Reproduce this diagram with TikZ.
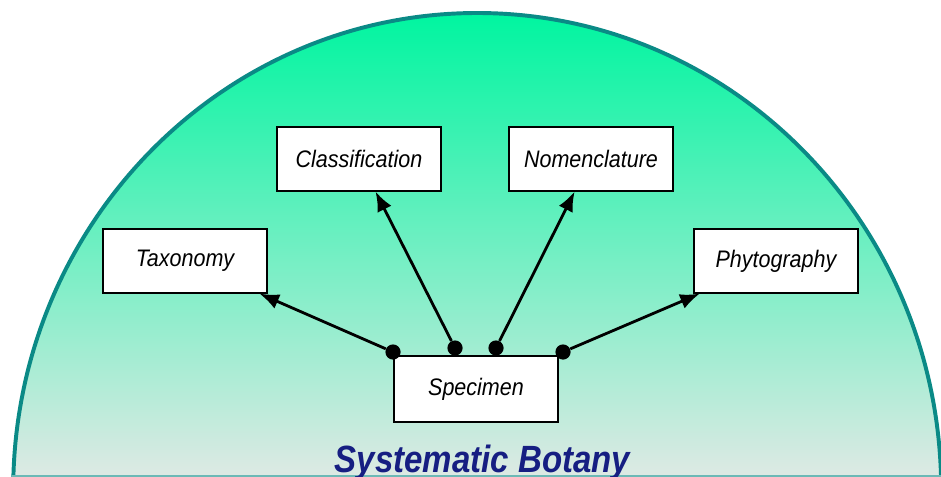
\documentclass[tikz,border=0pt]{standalone}
\usepackage{fontspec}
\setmainfont{Liberation Sans}
\newfontfamily\narrowfont[FakeStretch=0.9]{Liberation Sans}
\newfontfamily\titlefont[FakeStretch=0.87]{Liberation Sans}
\usetikzlibrary{positioning}
\usetikzlibrary{arrows.meta}
\usetikzlibrary{shadows}
\definecolor{domegreen}{RGB}{0,245,160}
\definecolor{domegrey}{RGB}{228,233,230}
\definecolor{domeedge}{RGB}{10,138,134}
\definecolor{titleblue}{RGB}{22,30,130}
\tikzset{
branch/.style={ % Sets the properties for each box
draw, thick,
fill=white,
minimum width=4.1cm, minimum height=1.6cm,
drop shadow={shadow xshift=0.7pt, shadow yshift=-0.7pt, opacity=0.4},
font=\narrowfont\fontsize{17}{20}\selectfont\itshape},
joint/.style={ % Dots where the arrows leave the specimen
circle, fill=black, inner sep=0pt, minimum size=0.38cm},
>={Latex[length=14pt,width=11pt]},
every edge/.style={ % Sets the properties for each arrow
draw,
->,
line width=2pt}}

\begin{document}
\begin{tikzpicture}
\useasboundingbox (0,0) rectangle (23.525,-11.925);
\begin{scope}
\clip (0,0) rectangle (23.525,-11.925);
\shade[top color=domegreen, bottom color=domegrey] (0.33,-12.25) arc[start angle=180, end angle=0, x radius=11.6cm, y radius=11.925cm] -- cycle;
\draw[domeedge, line width=2.8pt] (0.33,-12.25) arc[start angle=180, end angle=0, x radius=11.6cm, y radius=11.925cm];
\draw[domeedge!60, line width=0.8pt] (0.3,-11.9) -- (23.55,-11.9);
\end{scope}
\node[branch] (cls) at (8.975,-3.975) {Classification};
\node[branch] (nom) at (14.775,-3.975) {Nomenclature};
\node[branch] (tax) at (4.625,-6.525) {Taxonomy};
\node[branch] (phy) at (19.4,-6.525) {Phytography};
\node[branch, minimum height=1.65cm] (spc) at (11.9,-9.725) {Specimen};
\node[joint] (j1) at (9.825,-8.8) {};
\node[joint] (j2) at (11.375,-8.7) {};
\node[joint] (j3) at (12.4,-8.7) {};
\node[joint] (j4) at (14.075,-8.8) {};
\draw (j1) edge (tax) ;
\draw (j2) edge (cls) ;
\draw (j3) edge (nom) ;
\draw (j4) edge (phy) ;
\node[anchor=base, text=titleblue, font=\titlefont\fontsize{27}{30}\selectfont\bfseries\itshape] (ttl) at (12.06,-11.8) {Systematic Botany};
\end{tikzpicture}
\end{document}
